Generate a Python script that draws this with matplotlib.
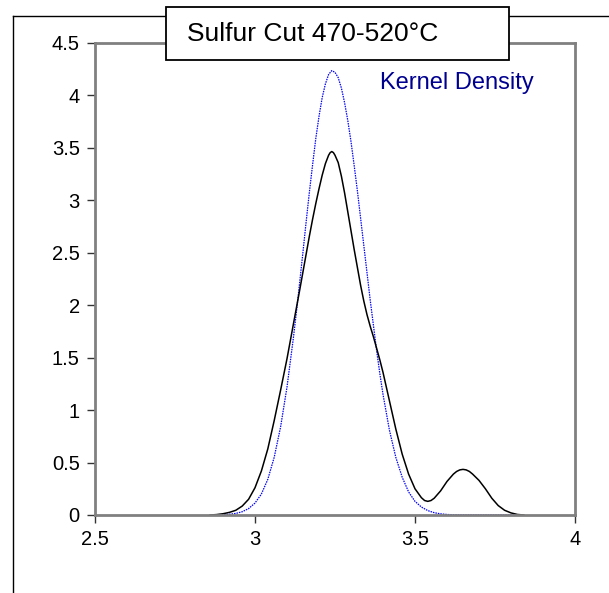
import matplotlib
matplotlib.use("Agg")
import matplotlib.pyplot as plt
from matplotlib.lines import Line2D
from matplotlib.patches import Rectangle

plt.rcParams['font.family'] = ['Liberation Sans', 'DejaVu Sans']

# density curves
x_black = [2.86, 2.88, 2.90, 2.92, 2.94, 2.96, 2.98, 3.00, 3.02, 3.04, 3.06, 3.08,
           3.10, 3.12, 3.14, 3.16, 3.17, 3.18, 3.19, 3.20, 3.21, 3.22, 3.23, 3.235,
           3.24, 3.245, 3.25, 3.26, 3.27, 3.28, 3.29, 3.30, 3.31, 3.32, 3.33, 3.34,
           3.35, 3.36, 3.37, 3.38, 3.39, 3.40, 3.42, 3.44, 3.46, 3.48, 3.50, 3.52,
           3.53, 3.54, 3.55, 3.56, 3.58, 3.60, 3.62, 3.63, 3.64, 3.65, 3.66, 3.67,
           3.68, 3.70, 3.72, 3.74, 3.76, 3.78, 3.80, 3.82, 3.84]
y_black = [0.0, 0.004, 0.012, 0.025, 0.045, 0.085, 0.15, 0.26, 0.42, 0.63, 0.90, 1.19,
           1.49, 1.82, 2.15, 2.49, 2.66, 2.82, 2.97, 3.11, 3.24, 3.35, 3.43, 3.455,
           3.465, 3.455, 3.43, 3.36, 3.23, 3.07, 2.89, 2.71, 2.53, 2.36, 2.19, 2.04,
           1.91, 1.80, 1.70, 1.59, 1.48, 1.36, 1.09, 0.82, 0.58, 0.39, 0.25, 0.165,
           0.138, 0.13, 0.138, 0.16, 0.23, 0.32, 0.39, 0.415, 0.43, 0.435, 0.43, 0.415,
           0.39, 0.33, 0.25, 0.16, 0.09, 0.045, 0.02, 0.005, 0.0]

x_blue = [2.88, 2.90, 2.92, 2.94, 2.96, 2.98, 3.00, 3.02, 3.04, 3.06, 3.08, 3.10,
          3.12, 3.13, 3.14, 3.15, 3.16, 3.17, 3.18, 3.19, 3.20, 3.21, 3.22, 3.23,
          3.24, 3.25, 3.26, 3.27, 3.28, 3.29, 3.30, 3.31, 3.32, 3.33, 3.34, 3.35,
          3.36, 3.37, 3.38, 3.39, 3.40, 3.42, 3.44, 3.46, 3.48, 3.50, 3.52, 3.54,
          3.56, 3.58, 3.60, 3.62, 3.64, 3.70, 3.82]
y_blue = [0.001, 0.003, 0.007, 0.015, 0.031, 0.061, 0.114, 0.20, 0.34, 0.55, 0.84, 1.22,
          1.69, 1.95, 2.23, 2.51, 2.80, 3.08, 3.34, 3.59, 3.80, 3.98, 4.11, 4.20,
          4.237, 4.22, 4.17, 4.07, 3.93, 3.76, 3.56, 3.33, 3.09, 2.83, 2.57, 2.31,
          2.05, 1.81, 1.57, 1.35, 1.15, 0.81, 0.55, 0.36, 0.22, 0.13, 0.076, 0.042,
          0.022, 0.011, 0.005, 0.002, 0.001, 0.0, 0.0]

x_ticks = [2.5, 3, 3.5, 4]
x_labels = ['2.5', '3', '3.5', '4']
y_ticks = [0, 0.5, 1, 1.5, 2, 2.5, 3, 3.5, 4, 4.5]
y_labels = ['0', '0.5', '1', '1.5', '2', '2.5', '3', '3.5', '4', '4.5']

W, H = 609, 593
fig = plt.figure(figsize=(W / 100, H / 100), dpi=100)
ax = fig.add_axes([95 / W, 1 - 515 / H, 480 / W, 472 / H])

ax.plot(x_blue, y_blue, color='#0000FF', lw=0.9, ls=(0, (1.2, 0.8)))
ax.plot(x_black, y_black, color='black', lw=1.1, solid_joinstyle='round')

ax.set_xlim(2.5, 4)
ax.set_ylim(0, 4.5)
ax.set_xticks(x_ticks)
ax.set_xticklabels(x_labels)
ax.set_yticks(y_ticks)
ax.set_yticklabels(y_labels)
ax.tick_params(direction='out', length=6, width=1, colors='#333333',
               labelcolor='black', labelsize=14.5, pad=5)
for s in ax.spines.values():
    s.set_color('#808080')
    s.set_linewidth(2)

ax.text(380 / W, 1 - 83 / H, 'Kernel Density', transform=fig.transFigure,
        color='#000090', fontsize=17, ha='left', va='center')

# outer frame lines
fig.add_artist(Line2D([13 / W, 13 / W], [0, 1 - 16 / H], color='black', lw=1,
                      transform=fig.transFigure))
fig.add_artist(Line2D([13 / W, 1], [1 - 16 / H, 1 - 16 / H], color='black', lw=1,
                      transform=fig.transFigure))

# title box
fig.add_artist(Rectangle((166 / W, 1 - 60 / H), 343 / W, 53 / H,
                         transform=fig.transFigure, facecolor='white',
                         edgecolor='black', lw=1.3, zorder=5))
fig.text(187 / W, 1 - 34 / H, 'Sulfur Cut 470-520°C', fontsize=19,
         ha='left', va='center', zorder=6)

fig.savefig('out.png', dpi=100)
